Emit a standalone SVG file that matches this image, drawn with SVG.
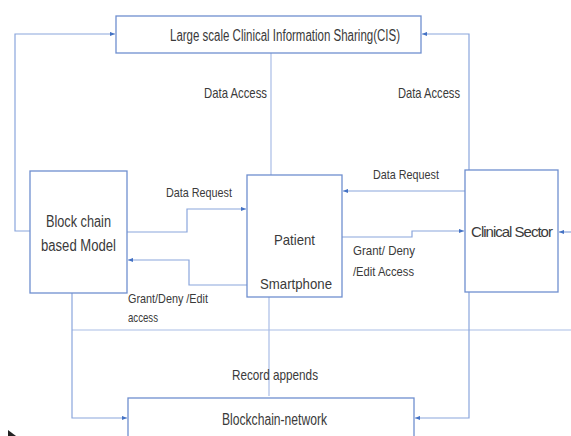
<svg xmlns="http://www.w3.org/2000/svg" width="571" height="436" viewBox="0 0 571 436">
<style>
.box{fill:#fff;stroke:#6f8fcf;stroke-width:1.3}
.ln{fill:none;stroke:#a9bde6;stroke-width:1.2}
.la{fill:none;stroke:#8aa6dc;stroke-width:1.2}
text{font-family:"Liberation Sans Narrow","Liberation Sans",Arial,sans-serif;fill:#3a3a3a}
.t16{font-size:16px}
.t15{font-size:15px}
.t13{font-size:13.5px}
</style>
<defs>
<marker id="ah" viewBox="0 0 6 6" refX="6" refY="3" markerWidth="5" markerHeight="5" orient="auto" markerUnits="userSpaceOnUse">
<path d="M0,0.5 L6,3 L0,5.5 Z" fill="#4472c4"/>
</marker>
</defs>
<rect width="571" height="436" fill="#fff"/>
<g id="connectors">
<path class="la" d="M30,231 H15 V34 H115" marker-end="url(#ah)"/>
<path class="la" d="M469,170 V34 H422" marker-end="url(#ah)"/>
<path class="ln" d="M271,53 V175"/>
<path class="la" d="M127,232 H187 V209 H246" marker-end="url(#ah)"/>
<path class="la" d="M247,285 H189 V260 H128" marker-end="url(#ah)"/>
<path class="la" d="M465,191 H343" marker-end="url(#ah)"/>
<path class="la" d="M342,237 H412 V231 H464" marker-end="url(#ah)"/>
<path class="la" d="M571,232 H559" marker-end="url(#ah)"/>
<path class="ln" d="M72,330 H571"/>
<path class="la" d="M72,293 V418 H127" marker-end="url(#ah)"/>
<path class="ln" d="M269,297 V396"/>
<path class="la" d="M469,292 V418 H415" marker-end="url(#ah)"/>
</g>
<g id="cis">
<rect class="box" x="116" y="16" width="305" height="37"/>
<text class="t16" x="170" y="41" textLength="230" lengthAdjust="spacingAndGlyphs">Large scale Clinical Information Sharing(CIS)</text>
</g>
<g id="block-model">
<rect class="box" x="30" y="171" width="97" height="122"/>
<text class="t16" x="46" y="227" textLength="65" lengthAdjust="spacingAndGlyphs">Block chain</text>
<text class="t16" x="41" y="251" textLength="75" lengthAdjust="spacingAndGlyphs">based Model</text>
</g>
<g id="patient">
<rect class="box" x="247" y="175" width="95" height="122"/>
<text class="t15" x="274" y="245" textLength="41" lengthAdjust="spacingAndGlyphs">Patient</text>
<text class="t15" x="260" y="289" textLength="72" lengthAdjust="spacingAndGlyphs">Smartphone</text>
</g>
<g id="clinical">
<rect class="box" x="465" y="170" width="93" height="122"/>
<text class="t15" x="511.5" y="237" text-anchor="middle" letter-spacing="-1">Clinical Sector</text>
</g>
<g id="blockchain-network">
<rect class="box" x="128" y="398" width="286" height="50"/>
<text class="t16" x="222" y="425" textLength="105" lengthAdjust="spacingAndGlyphs">Blockchain-network</text>
</g>
<g id="labels">
<text class="t15" x="204" y="98" textLength="63" lengthAdjust="spacingAndGlyphs">Data Access</text>
<text class="t15" x="398" y="98" textLength="62" lengthAdjust="spacingAndGlyphs">Data Access</text>
<text class="t13" x="166" y="197" textLength="66" lengthAdjust="spacingAndGlyphs">Data Request</text>
<text class="t13" x="373" y="179" textLength="66" lengthAdjust="spacingAndGlyphs">Data Request</text>
<text class="t13" x="353" y="255" textLength="62" lengthAdjust="spacingAndGlyphs">Grant/ Deny</text>
<text class="t13" x="353" y="276" textLength="61" lengthAdjust="spacingAndGlyphs">/Edit Access</text>
<text class="t13" x="128" y="303" textLength="80" lengthAdjust="spacingAndGlyphs">Grant/Deny /Edit</text>
<text class="t13" x="128" y="322" textLength="30" lengthAdjust="spacingAndGlyphs">access</text>
<text class="t15" x="232" y="380" textLength="86" lengthAdjust="spacingAndGlyphs">Record appends</text>
</g>
<path d="M8,430 L16,436 L8,436 Z" fill="#222"/>
</svg>
